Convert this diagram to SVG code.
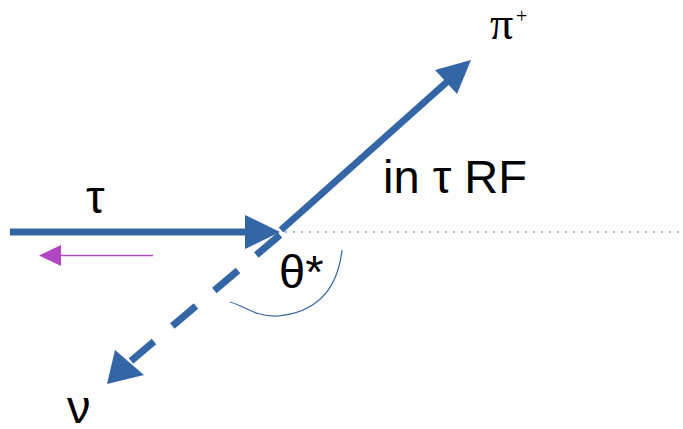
<svg xmlns="http://www.w3.org/2000/svg" width="683" height="429" viewBox="0 0 683 429">
<style>
.vec{stroke:#3465a4;stroke-width:7;fill:none;stroke-linecap:butt}
.head{fill:#3465a4;stroke:none}
.lbl{font-family:"Liberation Sans",Arial,sans-serif;font-size:47px;fill:#000}
.ser{font-family:"Liberation Serif","Times New Roman",serif;fill:#000}
</style>
<rect width="683" height="429" fill="#fff"/>
<g id="connectors">
<line x1="285" y1="232" x2="683" y2="232" stroke="#729fcf" stroke-width="1.5" stroke-dasharray="2 6"/>
<line class="vec" x1="10" y1="232" x2="247" y2="232"/>
<polygon class="head" points="245,215 280,232 245,249"/>
<line class="vec" x1="280" y1="235" x2="131" y2="361" stroke-dasharray="31 24"/>
<polygon class="head" points="107,384 115,350 144,375"/>
<line class="vec" x1="281" y1="230" x2="448" y2="81" stroke-width="7.5"/>
<polygon class="head" points="471,60 435,70 457,94"/>
<line x1="153" y1="255.5" x2="58" y2="255.5" stroke="#b146c2" stroke-width="1.3"/>
<polygon points="39,255.5 61,245 61,266" fill="#b146c2"/>
<path d="M342,250 C338,285 320,312 278,316 C255,317 245,306 230,302" fill="none" stroke="#3465a4" stroke-width="1.2"/>
</g>
<g id="tau"><text class="lbl" x="86" y="213">τ</text></g>
<g id="rf"><text class="lbl" x="383" y="193">in τ RF</text></g>
<g id="theta"><text class="lbl" x="279" y="288">θ*</text></g>
<g id="nu"><text class="lbl" x="67" y="423">ν</text></g>
<g id="pi"><text class="ser" x="490" y="39" font-size="46">π</text><text class="ser" x="516" y="23" font-size="20">+</text></g>
</svg>
